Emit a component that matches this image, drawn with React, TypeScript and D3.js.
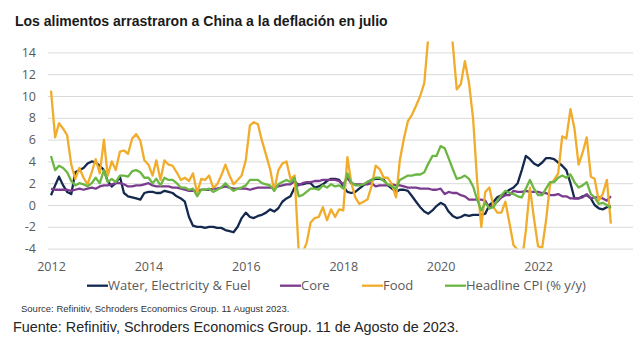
import * as d3 from 'd3';
import React, { useEffect } from 'react';

// Monthly data, Jan 2012 .. Jul 2023 (% y/y)
const startYear = 2012;

const waterElecFuel = [
  0.9, 1.8, 2.6, 1.8, 1.2, 1.0, 3.0, 3.2, 3.4, 3.8, 4.0, 3.9,
  3.6, 3.2, 2.2, 1.7, 2.0, 2.6, 1.1, 0.8, 0.7, 0.6, 0.5, 1.1,
  1.2, 1.2, 1.1, 1.1, 1.3, 1.2, 1.1, 0.8, 0.6, 0.3, -1.1, -1.9,
  -2.0, -2.0, -2.1, -2.0, -2.0, -2.1, -2.1, -2.3, -2.4, -2.5, -2.0, -1.2,
  -0.7, -1.1, -1.2, -1.0, -0.9, -0.7, -0.4, -0.6, -0.3, 0.3, 0.6, 0.8,
  1.6, 1.9, 1.9, 2.0, 2.0, 1.6, 1.7, 1.9, 2.2, 2.4, 2.4, 2.3,
  1.7, 1.2, 1.1, 1.2, 1.5, 1.8, 2.1, 2.3, 2.4, 2.4, 2.3, 1.8,
  1.5, 1.2, 1.4, 1.4, 1.3, 0.8, 0.3, -0.2, -0.6, -0.8, -0.5, -0.1,
  0.2, 0.0, -0.6, -1.0, -1.2, -1.1, -0.9, -1.0, -0.9, -0.9, -0.9, -0.8,
  0.0, 0.3, 0.7, 0.9, 1.1, 1.4, 1.6, 2.0, 3.2, 4.5, 4.2, 3.8,
  3.6, 3.9, 4.3, 4.3, 4.2, 3.9, 3.6, 3.2, 2.0, 0.6, 0.6, 0.8,
  0.9, 0.6, 0.0, -0.3, -0.4, -0.2, -0.1,
];

const core = [
  1.5, 1.4, 1.4, 1.4, 1.4, 1.3, 1.4, 1.5, 1.4, 1.5, 1.6, 1.5,
  1.7, 1.8, 1.8, 1.9, 2.0, 2.0, 1.9, 1.7, 1.7, 1.8, 1.8, 1.9,
  2.0, 1.8, 1.7, 1.7, 1.7, 1.7, 1.6, 1.6, 1.5, 1.4, 1.3, 1.3,
  1.3, 1.4, 1.4, 1.4, 1.5, 1.5, 1.6, 1.7, 1.6, 1.5, 1.5, 1.5,
  1.5, 1.4, 1.5, 1.6, 1.6, 1.6, 1.6, 1.6, 1.7, 1.8, 1.9, 1.9,
  2.2, 1.8, 2.0, 2.1, 2.1, 2.2, 2.2, 2.3, 2.3, 2.3, 2.3, 2.2,
  1.9, 2.5, 2.0, 1.9, 1.9, 1.9, 1.9, 2.0, 1.7, 1.8, 1.8, 1.8,
  1.9, 1.8, 1.8, 1.7, 1.6, 1.6, 1.6, 1.5, 1.5, 1.5, 1.4, 1.4,
  1.5, 1.0, 1.2, 1.1, 1.1, 0.9, 0.8, 0.5, 0.5, 0.5, 0.5, 0.4,
  -0.3, 0.0, 0.3, 0.7, 0.9, 0.9, 1.3, 1.2, 1.2, 1.3, 1.2, 1.2,
  1.2, 1.1, 1.1, 0.9, 0.9, 1.0, 0.8, 0.8, 0.6, 0.6, 0.6, 0.7,
  1.0, 0.6, 0.7, 0.7, 0.6, 0.4, 0.8,
];

const food = [
  10.5, 6.2, 7.5, 7.0, 6.4, 3.7, 2.4, 3.4, 2.5, 1.9, 3.0, 4.2,
  2.9, 6.0, 2.7, 4.0, 3.2, 4.9, 5.0, 4.7, 6.1, 6.5, 5.9, 4.1,
  3.7, 2.7, 4.1, 2.3, 4.1, 3.7, 3.6, 3.0, 2.3, 2.5, 2.2, 2.9,
  1.1, 2.4, 2.3, 2.7, 1.6, 1.9, 2.7, 3.7, 2.7, 1.9, 2.3, 2.7,
  4.1, 7.3, 7.6, 7.4, 5.9, 4.6, 3.3, 1.3, 3.2, 3.8, 4.0, 2.4,
  2.7, -4.3, -4.4, -3.5, -1.6, -1.2, -1.1, -0.2, -1.4, -0.4, -1.1, -0.4,
  -0.5, 4.4, 2.1, 0.7, 0.1, 0.3, 0.5, 1.7, 3.6, 3.3, 2.5, 2.5,
  1.9, 0.7, 4.1, 6.1, 7.7, 8.3, 9.1, 10.0, 11.2, 15.5, 19.1, 17.4,
  20.6, 21.9, 18.3, 14.8, 10.6, 11.1, 13.2, 11.2, 7.9, 2.2, -2.0, 1.2,
  1.6, -0.2, -0.7, -0.7, 0.3, -1.7, -3.7, -4.1, -5.2, -2.4, 1.6, -1.2,
  -3.8, -3.9, -1.5, 1.9, 2.3, 2.9, 6.3, 6.1, 8.8, 7.0, 3.7, 4.8,
  6.2, 2.6, 2.4, 0.4, 1.0, 2.3, -1.7,
];

const headline = [
  4.5, 3.2, 3.6, 3.4, 3.0, 2.2, 1.8, 2.0, 1.9, 1.7, 2.0, 2.5,
  2.0, 3.2, 2.1, 2.4, 2.1, 2.7, 2.7, 2.6, 3.1, 3.2, 3.0, 2.5,
  2.5, 2.0, 2.4, 1.8, 2.5, 2.3, 2.3, 2.0, 1.6, 1.6, 1.4, 1.5,
  0.8, 1.4, 1.4, 1.5, 1.2, 1.4, 1.6, 2.0, 1.6, 1.3, 1.5, 1.6,
  1.8, 2.3, 2.3, 2.3, 2.0, 1.9, 1.8, 1.3, 1.9, 2.1, 2.3, 2.1,
  2.5, 0.8, 0.9, 1.2, 1.5, 1.5, 1.4, 1.8, 1.6, 1.9, 1.7, 1.8,
  1.5, 2.9, 2.1, 1.8, 1.8, 1.9, 2.1, 2.3, 2.5, 2.5, 2.2, 1.9,
  1.7, 1.5, 2.3, 2.5, 2.7, 2.7, 2.8, 2.8, 3.0, 3.8, 4.5, 4.5,
  5.4, 5.2, 4.3, 3.3, 2.4, 2.5, 2.7, 2.4, 1.7, 0.5, -0.5, 0.2,
  -0.3, -0.2, 0.4, 0.9, 1.3, 1.1, 1.0, 0.8, 0.7, 1.5, 2.3, 1.5,
  0.9, 0.9, 1.5, 2.1, 2.1, 2.5, 2.7, 2.5, 2.8, 2.1, 1.6, 1.8,
  2.1, 1.0, 0.7, 0.1, 0.2, 0.0, -0.3,
];

const seriesNames = ['Water, Electricity & Fuel', 'Core', 'Food', 'Headline CPI (% y/y)'];
const seriesColors = ['#14294d', '#7b3b8e', '#f0ac2a', '#6cb643'];
const xTickYears = [2012, 2014, 2016, 2018, 2020, 2022];
const yTicks = [-4, -2, 0, 2, 4, 6, 8, 10, 12, 14];

const title = 'Los alimentos arrastraron a China a la deflación en julio';
const sourceEn = 'Source: Refinitiv, Schroders Economics Group. 11 August 2023.';
const sourceEs = 'Fuente: Refinitiv, Schroders Economics Group. 11 de Agosto de 2023.';

export default function App() {
  const ref = React.useRef<SVGSVGElement>(null);

  useEffect(() => {
    if (!ref.current) return;
    const svg = d3.select(ref.current);
    svg.selectAll('*').remove();

    const W = 642;
    const H = 350;
    const gridLeft = 48;
    const gridRight = 633;
    const labelFont = "'Open Sans', sans-serif";
    const grey = '#595959';

    svg.append('rect').attr('width', W).attr('height', H).attr('fill', '#fff');

    const x = d3
      .scaleTime()
      .domain([new Date(2012, 0, 1), new Date(2024, 0, 1)])
      .range([51, 635.4]);
    const y = d3.scaleLinear().domain([-4, 14]).range([248.6, 52.4]);

    // title
    svg
      .append('text')
      .attr('x', 15)
      .attr('y', 26)
      .attr('font-family', "'Liberation Sans', Arial, sans-serif")
      .attr('font-weight', 'bold')
      .attr('font-size', 14)
      .attr('fill', '#1a1a1a')
      .text(title);

    // Y axis + gridlines
    const yAxis = svg
      .append('g')
      .attr('transform', `translate(${gridLeft},0)`)
      .call(
        d3
          .axisLeft(y)
          .tickValues(yTicks)
          .tickSize(-(gridRight - gridLeft))
          .tickPadding(12)
          .tickFormat(d => String(d))
      );
    yAxis.select('.domain').remove();
    yAxis.selectAll('line').attr('stroke', '#d9d9d9').attr('stroke-width', 1);
    yAxis
      .selectAll('text')
      .attr('font-family', labelFont)
      .attr('font-size', 12.5)
      .attr('fill', grey);

    // X axis labels
    const xAxis = svg
      .append('g')
      .attr('transform', `translate(0,${y(-4)})`)
      .call(
        d3
          .axisBottom(x)
          .tickValues(xTickYears.map(yr => new Date(yr, 0, 1)))
          .tickSize(0)
          .tickPadding(14)
          .tickFormat(d => d3.timeFormat('%Y')(d as Date))
      );
    xAxis.select('.domain').remove();
    xAxis
      .selectAll('text')
      .attr('font-family', labelFont)
      .attr('font-size', 12.5)
      .attr('fill', grey);

    // clip to plot area (food spikes run off the top and bottom)
    svg
      .append('clipPath')
      .attr('id', 'plot-clip')
      .append('rect')
      .attr('x', gridLeft)
      .attr('y', y(15))
      .attr('width', gridRight - gridLeft)
      .attr('height', y(-4) - y(15));

    const allSeries = [waterElecFuel, core, food, headline];
    const line = d3
      .line<number>()
      .x((_, i) => x(new Date(startYear, i, 1)))
      .y(d => y(d));

    const plot = svg.append('g').attr('clip-path', 'url(#plot-clip)');
    allSeries.forEach((values, k) => {
      plot
        .append('path')
        .datum(values)
        .attr('fill', 'none')
        .attr('stroke', seriesColors[k])
        .attr('stroke-width', 2.3)
        .attr('stroke-linejoin', 'round')
        .attr('d', line);
    });

    // Legend
    const legendX = [87, 280, 362, 445];
    const legend = svg
      .selectAll('.legend')
      .data(seriesNames)
      .enter()
      .append('g')
      .attr('class', 'legend')
      .attr('transform', (_, i) => `translate(${legendX[i]},285.7)`);
    legend
      .append('line')
      .attr('x1', 0)
      .attr('x2', 21)
      .attr('stroke', (_, i) => seriesColors[i])
      .attr('stroke-width', 2.3);
    legend
      .append('text')
      .attr('x', 21)
      .attr('y', 4.5)
      .attr('font-family', labelFont)
      .attr('font-size', 13)
      .attr('fill', grey)
      .text(d => d);

    // sources
    svg
      .append('text')
      .attr('x', 21)
      .attr('y', 312)
      .attr('font-family', "'Liberation Sans', Arial, sans-serif")
      .attr('font-size', 9.5)
      .attr('fill', '#333')
      .text(sourceEn);
    svg
      .append('text')
      .attr('x', 13)
      .attr('y', 332)
      .attr('font-family', "'Liberation Sans', Arial, sans-serif")
      .attr('font-size', 14.4)
      .attr('fill', '#262626')
      .text(sourceEs);
  }, []);

  return (
    <svg
      ref={ref}
      width={642}
      height={350}
      style={{ position: 'absolute', left: 0, top: 0, display: 'block' }}
    />
  );
}
